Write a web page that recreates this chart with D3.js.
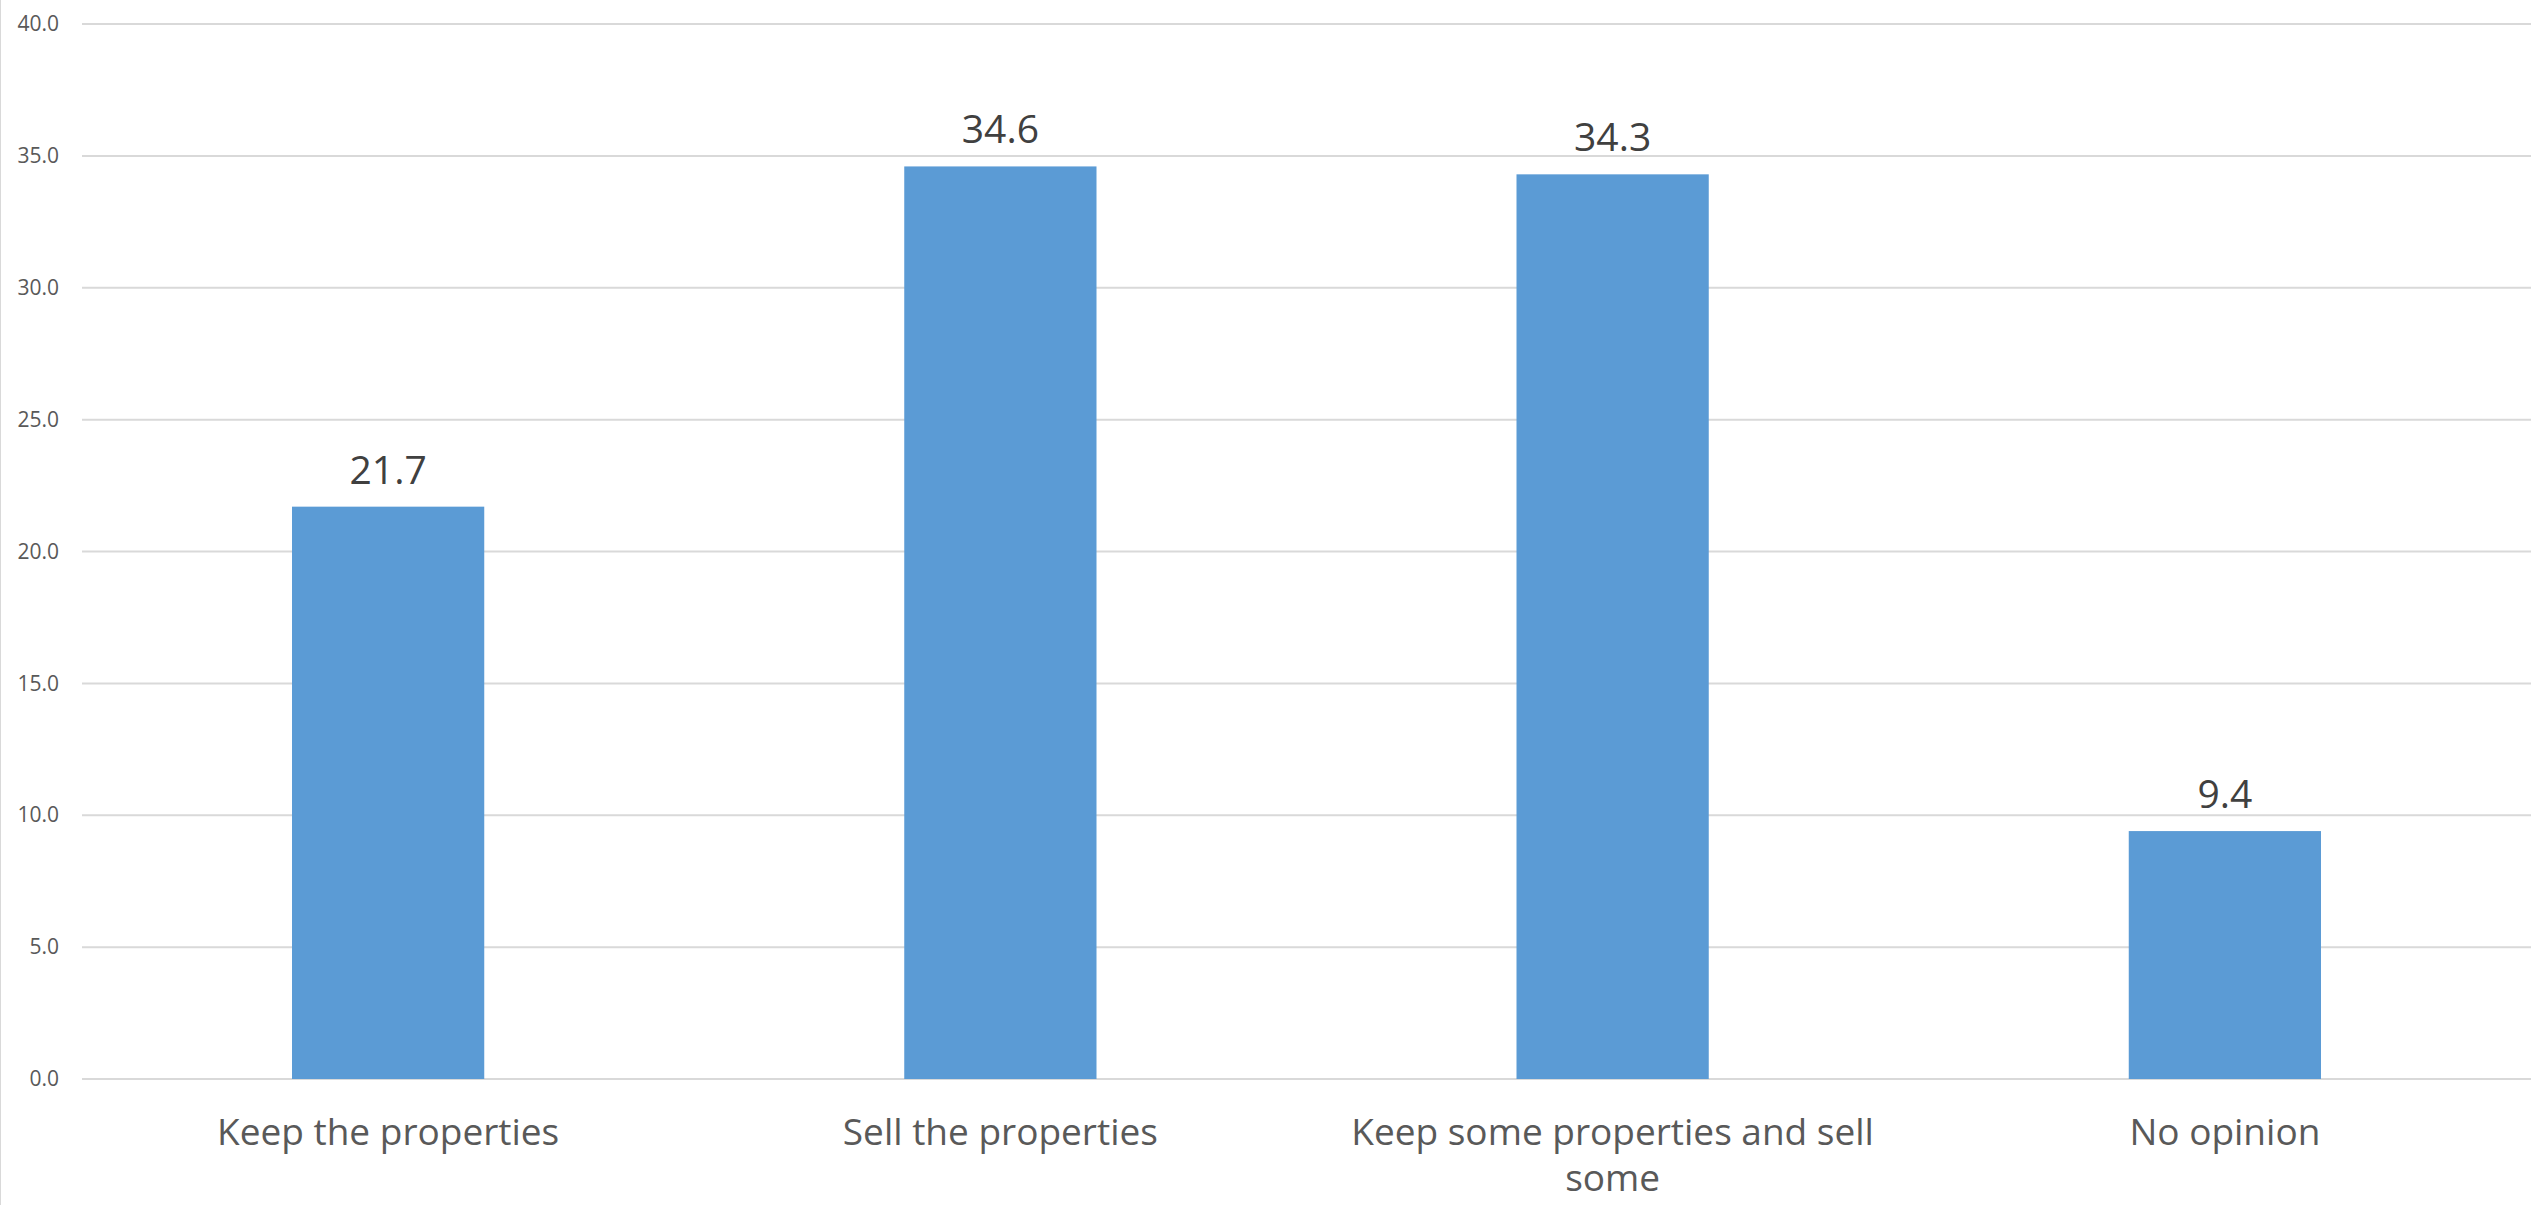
<!DOCTYPE html>
<html>
<head>
<meta charset="utf-8">
<script src="https://cdn.jsdelivr.net/npm/d3@7"></script>
<style>
  html, body { margin: 0; padding: 0; background: #fff; }
  svg { display: block; }
  text { font-family: "Open Sans", "Noto Sans", sans-serif; }
</style>
</head>
<body>
<svg id="chart" width="2539" height="1205"></svg>
<script>
const categories = ["Keep the properties", "Sell the properties", "Keep some properties and sell some", "No opinion"];
const values = [21.7, 34.6, 34.3, 9.4];
const yTicks = [0, 5, 10, 15, 20, 25, 30, 35, 40];

const W = 2539, H = 1205;
const margin = { left: 82, right: 8, top: 24, bottom: 126 };
const svg = d3.select("#chart");

const x = d3.scaleBand()
  .domain(categories)
  .range([margin.left, W - margin.right])
  .paddingInner(0.686)
  .paddingOuter(0.343);

const y = d3.scaleLinear()
  .domain([0, 40])
  .range([H - margin.bottom, margin.top]);

// chart border (left edge visible)
svg.append("line")
  .attr("x1", 0.5).attr("x2", 0.5).attr("y1", 0).attr("y2", H)
  .attr("stroke", "#d9d9d9").attr("stroke-width", 1);

// gridlines
svg.append("g")
  .selectAll("line")
  .data(yTicks)
  .join("line")
  .attr("x1", margin.left).attr("x2", W - margin.right)
  .attr("y1", d => y(d)).attr("y2", d => y(d))
  .attr("stroke", "#d9d9d9").attr("stroke-width", 2);

// y axis labels
const yAxis = d3.axisLeft(y).tickValues(yTicks).tickFormat(d3.format(".1f")).tickSize(0).tickPadding(23);
const gy = svg.append("g").attr("transform", `translate(${margin.left},0)`).call(yAxis);
gy.select(".domain").remove();
gy.selectAll("text")
  .attr("fill", "#595959")
  .style("font-size", "21px")
  .style("font-family", "'Open Sans', sans-serif");

// bars
svg.append("g")
  .selectAll("rect")
  .data(values)
  .join("rect")
  .attr("x", (d, i) => x(categories[i]))
  .attr("width", x.bandwidth())
  .attr("y", d => y(d))
  .attr("height", d => y(0) - y(d))
  .attr("fill", "#5b9bd5");

// data labels
svg.append("g")
  .selectAll("text")
  .data(values)
  .join("text")
  .attr("x", (d, i) => x(categories[i]) + x.bandwidth() / 2)
  .attr("y", d => y(d) - 23)
  .attr("text-anchor", "middle")
  .attr("fill", "#404040")
  .style("font-size", "39px")
  .text(d => d.toFixed(1));

// category labels with wrapping
const xAxis = d3.axisBottom(x).tickSize(0).tickPadding(0);
const gx = svg.append("g").attr("transform", `translate(0,${y(0)})`).call(xAxis);
gx.select(".domain").remove();
gx.selectAll("text").remove();
const maxW = 560;
gx.selectAll(".tick").each(function(d) {
  const g = d3.select(this);
  const t = g.append("text")
    .attr("text-anchor", "middle")
    .attr("fill", "#595959")
    .style("font-size", "37px")
    .attr("y", 66);
  const words = d.split(" ");
  let line = [];
  let tspan = t.append("tspan").attr("x", 0).attr("dy", 0);
  for (const w of words) {
    line.push(w);
    tspan.text(line.join(" "));
    if (tspan.node().getComputedTextLength() > maxW && line.length > 1) {
      line.pop();
      tspan.text(line.join(" "));
      line = [w];
      tspan = t.append("tspan").attr("x", 0).attr("dy", 46).text(w);
    }
  }
});
</script>
</body>
</html>
